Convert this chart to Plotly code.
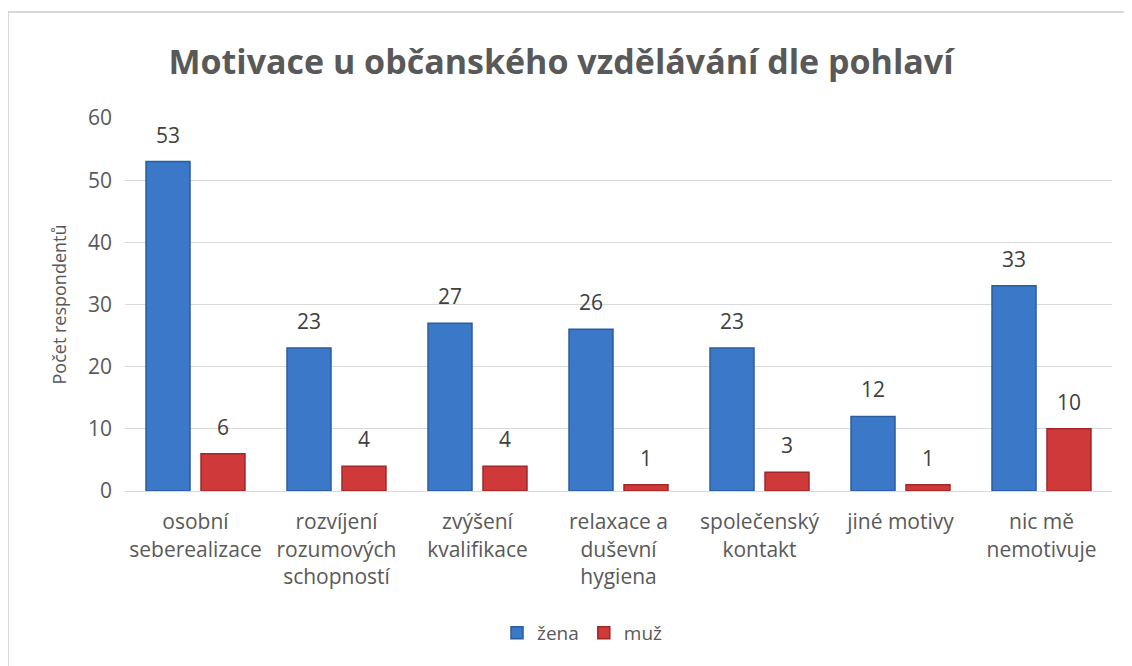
import plotly.graph_objects as go

categories = ["osobní<br>seberealizace", "rozvíjení<br>rozumových<br>schopností",
              "zvýšení<br>kvalifikace", "relaxace a<br>duševní<br>hygiena",
              "společenský<br>kontakt", "jiné motivy", "nic mě<br>nemotivuje"]
zena = [53, 23, 27, 26, 23, 12, 33]
muz = [6, 4, 4, 1, 3, 1, 10]
y_ticks = [0, 10, 20, 30, 40, 50, 60]

W, H = 1124, 658
L, R, T, B = 117, 20, 110, 175
pw, ph = W - L - R, H - T - B

font = "'Open Sans', sans-serif"
grey = "#595959"
bargap, groupgap = 0.22, 0.20
slot = pw / len(categories) * (1 - bargap) / 2   # pixel width of one bar slot

fig = go.Figure()
fig.add_trace(go.Bar(x=categories, y=zena, name="žena",
                     marker=dict(color="#3b78c8", line=dict(color="#2b5c9c", width=1.5))))
fig.add_trace(go.Bar(x=categories, y=muz, name="muž",
                     marker=dict(color="#d03939", line=dict(color="#a02828", width=1.5))))

# value labels, lifted above the bars like Excel does
for vals, side in ((zena, -1), (muz, 1)):
    for c, v in zip(categories, vals):
        fig.add_annotation(x=c, y=v, text=str(v), showarrow=False,
                           xshift=side * slot / 2, yshift=27, yanchor="middle",
                           font=dict(size=21, color="#404040", family=font))

# outer chart border (only top/left edges fall inside the window)
fig.add_shape(type="rect", xref="paper", yref="paper",
              x0=(0 - L) / pw, x1=(W + 20 - L) / pw,
              y0=-(H + 20 - T - ph) / ph, y1=1 + (T - 4) / ph,
              line=dict(color="#d9d9d9", width=2), layer="below")

fig.update_layout(
    width=W, height=H,
    margin=dict(l=L, r=R, t=T, b=B),
    paper_bgcolor="white", plot_bgcolor="white",
    font=dict(family=font, color=grey, size=17),
    title=dict(text="<b>Motivace u občanského vzdělávání dle pohlaví</b>",
               x=553 / W, xanchor="center", y=1 - 54 / H, yanchor="middle",
               font=dict(size=34, color=grey, family=font)),
    barmode="group", bargap=bargap, bargroupgap=groupgap,
    showlegend=True,
    legend=dict(orientation="h", x=0.5 - 36 / pw, xanchor="center", y=-(625 - T - ph) / ph,
                yanchor="middle", font=dict(size=19, color=grey), traceorder="normal"),
    xaxis=dict(showline=True, linecolor="#d9d9d9", linewidth=1, ticks="",
               ticklabelstandoff=12, tickfont=dict(size=21, color=grey)),
    yaxis=dict(range=[0, 60], tickvals=y_ticks, showgrid=True, gridcolor="#d9d9d9",
               gridwidth=1, zeroline=False, ticks="", ticklabelstandoff=12,
               tickfont=dict(size=21, color=grey),
               title=dict(text="Počet respondentů", font=dict(size=18, color=grey),
                          standoff=16)),
)

fig.write_html("out.html")
